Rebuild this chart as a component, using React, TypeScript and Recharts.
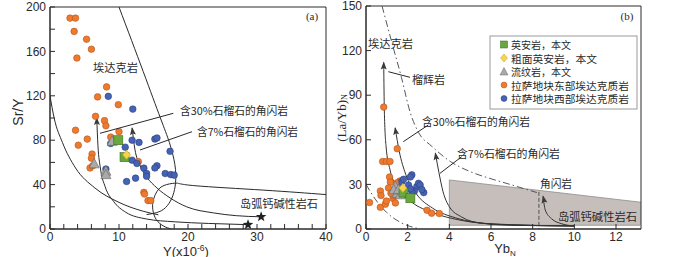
import React from 'react';
import { ComposedChart, Line, Scatter, XAxis, YAxis, ReferenceArea, Area } from 'recharts';

// ---------- Panel (a): Sr/Y vs Y ----------
const aXTicks = [0, 2, 4, 6, 8, 10, 12, 14, 16, 18, 20, 22, 24, 26, 28, 30, 32, 34, 36, 38, 40];
const aYTicks = [0, 20, 40, 60, 80, 100, 120, 140, 160, 180, 200];

const aEast = [
  { x: 2.9, y: 190 }, { x: 3.7, y: 190 }, { x: 3.5, y: 178 }, { x: 5.3, y: 171 }, { x: 6.0, y: 162 },
  { x: 3.9, y: 154 }, { x: 8.2, y: 128 }, { x: 6.9, y: 119 }, { x: 9.9, y: 112 }, { x: 6.6, y: 101.5 },
  { x: 7.9, y: 97.6 }, { x: 8.1, y: 93 }, { x: 3.7, y: 89 }, { x: 10.0, y: 87.7 }, { x: 5.4, y: 81 },
  { x: 8.8, y: 82.8 }, { x: 4.1, y: 75.5 }, { x: 6.1, y: 67.5 }, { x: 6.0, y: 63.8 }, { x: 5.8, y: 55 },
  { x: 6.2, y: 57 }, { x: 12.8, y: 60.7 }, { x: 13.6, y: 33 }, { x: 13.7, y: 31.5 }, { x: 14.2, y: 25.6 },
  { x: 14.6, y: 25.6 },
];
const aWest = [
  { x: 8.45, y: 119.5 }, { x: 12.0, y: 108 }, { x: 11.9, y: 80 }, { x: 12.9, y: 78 }, { x: 15.2, y: 81 },
  { x: 15.5, y: 82 }, { x: 10.9, y: 73.7 }, { x: 8.8, y: 77 }, { x: 17.4, y: 70 }, { x: 11.9, y: 62 },
  { x: 12.6, y: 59 }, { x: 13.6, y: 54.8 }, { x: 15.5, y: 57 }, { x: 15.2, y: 55 }, { x: 16.7, y: 50 },
  { x: 17.5, y: 49 }, { x: 18.0, y: 48.5 }, { x: 14.0, y: 50 }, { x: 14.0, y: 47.5 }, { x: 12.4, y: 45.8 },
  { x: 11.1, y: 42.8 }, { x: 8.1, y: 54 },
];
const aDacite = [{ x: 9.9, y: 80 }, { x: 10.8, y: 64.7 }];
const aTrachy = [{ x: 11.1, y: 66.8 }];
const aRhyolite = [{ x: 9.0, y: 79 }, { x: 6.4, y: 58.7 }, { x: 8.1, y: 52 }, { x: 8.1, y: 49 }];
const aStars = [{ x: 28.7, y: 3.9 }, { x: 30.6, y: 11 }];

const aAdakiteRight = [
  { x: 10, y: 200 }, { x: 13.5, y: 142 }, { x: 16, y: 100 }, { x: 17.3, y: 78 }, { x: 18.1, y: 58 },
  { x: 18.2, y: 42 }, { x: 17.8, y: 30 }, { x: 17.0, y: 21 }, { x: 15.8, y: 15.5 }, { x: 14.0, y: 13 },
];
const aAdakiteLeft = [
  { x: 0, y: 120 }, { x: 0.6, y: 100 }, { x: 1.8, y: 78 }, { x: 3.7, y: 55 }, { x: 6.5, y: 37 },
  { x: 10, y: 24 }, { x: 13.5, y: 16 }, { x: 15.7, y: 12.8 },
];
const aArcField = [
  { x: 40, y: 31 }, { x: 31, y: 35 }, { x: 21, y: 39 }, { x: 18.4, y: 41.3 }, { x: 16.9, y: 40 },
  { x: 15.7, y: 35.5 }, { x: 15.0, y: 26.5 }, { x: 14.9, y: 17.5 }, { x: 15.4, y: 8.5 }, { x: 16.5, y: 2.5 },
  { x: 17.6, y: 0 },
];
const aPath30 = [
  { x: 6.77, y: 100 }, { x: 6.95, y: 75 }, { x: 7.3, y: 55 }, { x: 8.0, y: 38 }, { x: 9.2, y: 25 },
  { x: 11, y: 15 }, { x: 14, y: 9 }, { x: 18, y: 6.5 }, { x: 23, y: 5 }, { x: 28.7, y: 3.9 },
];
const aPath7 = [
  { x: 11.9, y: 91 }, { x: 12.3, y: 72 }, { x: 13.0, y: 58 }, { x: 14.0, y: 47 }, { x: 15.5, y: 37 },
  { x: 17.4, y: 28 }, { x: 19.8, y: 20 }, { x: 23.7, y: 14.5 }, { x: 27, y: 12 }, { x: 30.6, y: 11 },
];

// ---------- Panel (b): (La/Yb)N vs YbN ----------
const bXTicks = [0, 2, 4, 6, 8, 10, 12];
const bYTicks = [0, 30, 60, 90, 120, 150];

const bEast = [
  { x: 0.85, y: 82 }, { x: 0.8, y: 45.4 }, { x: 0.98, y: 45.4 }, { x: 1.15, y: 45.4 }, { x: 1.5, y: 54 },
  { x: 0.69, y: 25.5 }, { x: 0.72, y: 22.5 }, { x: 1.13, y: 35 }, { x: 1.17, y: 31.5 }, { x: 0.17, y: 17.8 },
  { x: 0.69, y: 14.6 }, { x: 0.93, y: 16.7 }, { x: 0.98, y: 18.8 }, { x: 1.3, y: 20.5 }, { x: 1.41, y: 17.5 },
  { x: 1.3, y: 22.5 }, { x: 1.62, y: 32.3 }, { x: 1.49, y: 31 }, { x: 2.93, y: 12.6 }, { x: 3.15, y: 10.6 },
  { x: 3.52, y: 10.4 }, { x: 1.08, y: 27.6 }, { x: 1.2, y: 24 },
];
const bWest = [
  { x: 2.2, y: 36.4 }, { x: 2.13, y: 35 }, { x: 1.72, y: 32 }, { x: 1.8, y: 33.4 }, { x: 2.04, y: 29.6 },
  { x: 2.44, y: 28.5 }, { x: 2.52, y: 30.7 }, { x: 2.6, y: 29.6 }, { x: 2.77, y: 24.5 }, { x: 2.32, y: 25.4 },
  { x: 2.68, y: 26.5 }, { x: 2.2, y: 25.4 }, { x: 2.13, y: 27 }, { x: 1.64, y: 27.6 },
];
const bDacite = [{ x: 1.8, y: 24.5 }, { x: 2.13, y: 20.7 }];
const bTrachy = [{ x: 1.77, y: 27.6 }];
const bRhyolite = [{ x: 1.41, y: 28.5 }, { x: 1.49, y: 24 }, { x: 1.64, y: 23 }, { x: 1.33, y: 26.4 }, { x: 1.56, y: 26.5 }];

const bArcField = [{ x: 4, y: 33 }, { x: 13.2, y: 18 }];
const bArcLeftEdge = [{ x: 4, y: 2.5 }, { x: 4, y: 33 }];
const bArcBottom = [{ x: 4, y: 2.5 }, { x: 13.2, y: 2.5 }];
const bUpperDash = [
  { x: 0.77, y: 150 }, { x: 1.25, y: 125 }, { x: 1.7, y: 102 }, { x: 2.13, y: 78 }, { x: 2.52, y: 65 },
  { x: 3.17, y: 55.5 }, { x: 4.05, y: 45.4 }, { x: 5.0, y: 38.6 }, { x: 6.0, y: 33.8 }, { x: 6.77, y: 30.6 },
  { x: 8.2, y: 24.5 },
];
const bVertDash = [{ x: 8.3, y: 25 }, { x: 8.3, y: 0 }];
const bLowerDash = [{ x: 0, y: 30 }, { x: 0.45, y: 20 }, { x: 1.0, y: 11 }, { x: 1.65, y: 4.5 }, { x: 2.6, y: 0 }];
const bEclogite = [
  { x: 0.85, y: 112 }, { x: 0.88, y: 80 }, { x: 0.96, y: 56 }, { x: 1.15, y: 40 }, { x: 1.5, y: 28 },
  { x: 2.2, y: 18 }, { x: 3.2, y: 11 }, { x: 4.5, y: 6 }, { x: 6.5, y: 3 }, { x: 10, y: 2 },
];
const bGarnet30 = [
  { x: 1.4, y: 68 }, { x: 1.6, y: 52 }, { x: 1.9, y: 37 }, { x: 2.4, y: 24 }, { x: 3.2, y: 14 },
  { x: 4.3, y: 7.5 }, { x: 6, y: 3.5 }, { x: 10, y: 2 },
];
const bGarnet7 = [
  { x: 3.33, y: 51 }, { x: 3.5, y: 38 }, { x: 3.7, y: 25 }, { x: 4.0, y: 15 }, { x: 4.6, y: 8 },
  { x: 5.5, y: 4 }, { x: 7, y: 2.5 }, { x: 10, y: 2 },
];
const bAmph = [{ x: 8.5, y: 22 }, { x: 8.6, y: 13 }, { x: 8.9, y: 7 }, { x: 9.4, y: 3.5 }, { x: 10, y: 2 }];

// ---------- styles ----------
const ink = '#2a2a2a';
const cOrange = '#ee7a2e';
const cBlue = '#4562b4';
const cGreen = '#69a83c';
const cYellow = '#f6d54c';
const cGray = '#a9a9a9';
const cjk = '"Noto Sans CJK SC", sans-serif';
const sans = '"Liberation Sans", Arial, sans-serif';
const serif = '"Liberation Serif", "Times New Roman", serif';

const Circle = (fill: string, stroke: string) => (p: any) =>
  <circle cx={p.cx} cy={p.cy} r={3.3} fill={fill} stroke={stroke} strokeWidth={0.6} />;
const Square = (p: any) =>
  <rect x={p.cx - 4.5} y={p.cy - 4.5} width={9} height={9} fill={cGreen} stroke="#3d6e22" strokeWidth={0.6} />;
const Diamond = (p: any) =>
  <polygon points={`${p.cx},${p.cy - 4.5} ${p.cx + 4},${p.cy} ${p.cx},${p.cy + 4.5} ${p.cx - 4},${p.cy}`} fill={cYellow} stroke="#c9a327" strokeWidth={0.6} />;
const Triangle = (p: any) =>
  <polygon points={`${p.cx},${p.cy - 5.5} ${p.cx + 5},${p.cy + 4} ${p.cx - 5},${p.cy + 4}`} fill={cGray} stroke="#6f6f6f" strokeWidth={0.7} />;
const Star = (p: any) => {
  const pts: string[] = [];
  for (let i = 0; i < 10; i++) {
    const r = i % 2 === 0 ? 5.5 : 2.3;
    const a = -Math.PI / 2 + (i * Math.PI) / 5;
    pts.push(`${p.cx + r * Math.cos(a)},${p.cy + r * Math.sin(a)}`);
  }
  return <polygon points={pts.join(' ')} fill="#222" />;
};

const arrowDot = (angle: number) => (p: any) => {
  if (p.index !== 0 || p.cx == null) return <g key={p.key} />;
  return (
    <polygon key={p.key} points="0,-1 -3,7 0,5.5 3,7" fill="#3a3a3a"
      transform={`translate(${p.cx},${p.cy}) rotate(${angle})`} />
  );
};

const tickStyle = { fill: ink, fontSize: 12, fontFamily: sans };

function PanelA() {
  return (
    <ComposedChart width={350} height={257} margin={{ top: 7, right: 24, bottom: 0, left: 0 }}>
      <XAxis type="number" dataKey="x" domain={[0, 40]} ticks={aXTicks} interval={0} allowDataOverflow
        tickFormatter={(v: number) => (v % 10 === 0 ? String(v) : '')} tickSize={-5} tickMargin={8}
        height={28} stroke={ink} tick={tickStyle} />
      <YAxis type="number" dataKey="y" domain={[0, 200]} ticks={aYTicks} interval={0} allowDataOverflow
        tickFormatter={(v: number) => (v % 40 === 0 ? String(v) : '')} tickSize={-5} tickMargin={9}
        width={50} stroke={ink} tick={tickStyle} />
      <ReferenceArea x1={0} x2={40} y1={0} y2={200} fill="none" stroke={ink} strokeWidth={1} />
      <Line data={aAdakiteRight} dataKey="y" type="natural" stroke={ink} strokeWidth={1} dot={false} isAnimationActive={false} />
      <Line data={aAdakiteLeft} dataKey="y" type="monotone" stroke={ink} strokeWidth={1} dot={false} isAnimationActive={false} />
      <Line data={aArcField} dataKey="y" type="natural" stroke={ink} strokeWidth={1} dot={false} isAnimationActive={false} />
      <Line data={aPath30} dataKey="y" type="monotone" stroke={ink} strokeWidth={1} dot={arrowDot(-2)} isAnimationActive={false} />
      <Line data={aPath7} dataKey="y" type="monotone" stroke={ink} strokeWidth={1} dot={arrowDot(-7)} isAnimationActive={false} />
      <Scatter data={aEast} shape={Circle(cOrange, '#b5551c')} isAnimationActive={false} />
      <Scatter data={aWest} shape={Circle(cBlue, '#2c3f80')} isAnimationActive={false} />
      <Scatter data={aRhyolite} shape={Triangle} isAnimationActive={false} />
      <Scatter data={aDacite} shape={Square} isAnimationActive={false} />
      <Scatter data={aTrachy} shape={Diamond} isAnimationActive={false} />
      <Scatter data={aStars} shape={Star} isAnimationActive={false} />
    </ComposedChart>
  );
}

function PanelB() {
  return (
    <ComposedChart width={400} height={257} margin={{ top: 6, right: 59, bottom: 0, left: 0 }} data={bArcField}>
      <XAxis type="number" dataKey="x" domain={[0, 13.2]} ticks={bXTicks} interval={0} allowDataOverflow
        tickSize={-5} tickMargin={8} height={28} stroke={ink} tick={tickStyle} />
      <YAxis type="number" dataKey="y" domain={[0, 150]} ticks={bYTicks} interval={0} allowDataOverflow
        tickSize={-5} tickMargin={9} width={66} stroke={ink} tick={tickStyle} />
      <Area dataKey="y" type="linear" baseValue={2.5} fill="#c6bebb" fillOpacity={1} stroke="#8d8d8d" strokeWidth={0.8} isAnimationActive={false} />
      <Line data={bArcLeftEdge} dataKey="y" type="linear" stroke="#8d8d8d" strokeWidth={0.8} dot={false} isAnimationActive={false} />
      <Line data={bArcBottom} dataKey="y" type="linear" stroke="#8d8d8d" strokeWidth={0.8} dot={false} isAnimationActive={false} />
      <ReferenceArea x1={0} x2={13.2} y1={0} y2={150} fill="none" stroke={ink} strokeWidth={1} />
      <Line data={bUpperDash} dataKey="y" type="monotone" stroke="#444" strokeWidth={0.9} strokeDasharray="7 3 1.5 3" dot={false} isAnimationActive={false} />
      <Line data={bVertDash} dataKey="y" type="linear" stroke="#444" strokeWidth={0.9} strokeDasharray="4 2" dot={false} isAnimationActive={false} />
      <Line data={bLowerDash} dataKey="y" type="monotone" stroke="#444" strokeWidth={0.9} strokeDasharray="7 3 1.5 3" dot={false} isAnimationActive={false} />
      <Line data={bEclogite} dataKey="y" type="monotone" stroke="#333" strokeWidth={1} dot={arrowDot(0)} isAnimationActive={false} />
      <Line data={bGarnet30} dataKey="y" type="monotone" stroke="#333" strokeWidth={1} dot={arrowDot(-9)} isAnimationActive={false} />
      <Line data={bGarnet7} dataKey="y" type="monotone" stroke="#333" strokeWidth={1} dot={arrowDot(-10)} isAnimationActive={false} />
      <Line data={bAmph} dataKey="y" type="monotone" stroke="#333" strokeWidth={1} dot={arrowDot(-12)} isAnimationActive={false} />
      <Scatter data={bEast} shape={Circle(cOrange, '#b5551c')} isAnimationActive={false} />
      <Scatter data={bWest} shape={Circle(cBlue, '#2c3f80')} isAnimationActive={false} />
      <Scatter data={bRhyolite} shape={Triangle} isAnimationActive={false} />
      <Scatter data={bDacite} shape={Square} isAnimationActive={false} />
      <Scatter data={bTrachy} shape={Diamond} isAnimationActive={false} />
    </ComposedChart>
  );
}

const T = ({ x, y, w, children, size = 11 }: any) => (
  <text x={x} y={y} dominantBaseline="central" fontFamily={cjk} fontSize={size} fill={ink}
    textLength={w} lengthAdjust="spacingAndGlyphs">{children}</text>
);

const legendItems = [
  { label: '英安岩，本文', w: 60 },
  { label: '粗面英安岩，本文', w: 86 },
  { label: '流纹岩，本文', w: 60 },
  { label: '拉萨地块东部埃达克质岩', w: 118 },
  { label: '拉萨地块西部埃达克质岩', w: 118 },
];
const legendY = [44.5, 58, 71.5, 85, 98.5];

function Overlay() {
  const lx = 504;
  return (
    <svg width={700} height={257} style={{ position: 'absolute', left: 0, top: 0, pointerEvents: 'none' }}>
      {/* axis titles */}
      <text x={18} y={112} transform="rotate(-90 18 112)" textAnchor="middle" dominantBaseline="central"
        fontFamily={sans} fontSize={14} fill={ink}>Sr/Y</text>
      <text x={186} y={255.5} textAnchor="middle" fontFamily={sans} fontSize={13} fill={ink}>
        Y(x10<tspan fontSize={8.5} dy={-5}>-6</tspan><tspan dy={5}>)</tspan>
      </text>
      <text x={341} y={118} transform="rotate(-90 341 118)" textAnchor="middle" dominantBaseline="central"
        fontFamily={serif} fontSize={13} fill={ink}>(La/Yb)<tspan fontSize={8} dy={3}>N</tspan></text>
      <text x={505} y={253} textAnchor="middle" fontFamily={sans} fontSize={13} fill={ink}>
        Yb<tspan fontSize={8} dy={3}>N</tspan>
      </text>
      <text x={312} y={16} textAnchor="middle" dominantBaseline="central" fontFamily={serif} fontSize={11} fill={ink}>(a)</text>
      <text x={627} y={16} textAnchor="middle" dominantBaseline="central" fontFamily={serif} fontSize={11} fill={ink}>(b)</text>

      {/* panel (a) annotations */}
      <T x={93} y={67} w={45}>埃达克岩</T>
      <line x1={100} y1={133.3} x2={173.3} y2={113.3} stroke={ink} strokeWidth={1} />
      <T x={180} y={110} w={108}>含30%石榴石的角闪岩</T>
      <line x1={140} y1={150} x2={192} y2={131.7} stroke={ink} strokeWidth={1} />
      <T x={197} y={131} w={101}>含7%石榴石的角闪岩</T>
      <T x={240} y={203} w={78}>岛弧钙碱性岩石</T>

      {/* panel (b) annotations */}
      <T x={368} y={43} w={45}>埃达克岩</T>
      <line x1={388.3} y1={71.7} x2={410} y2={77.3} stroke={ink} strokeWidth={1} />
      <T x={412} y={79} w={33}>榴辉岩</T>
      <line x1={403.3} y1={141.7} x2={428.3} y2={125} stroke={ink} strokeWidth={1} />
      <T x={422} y={121} w={108}>含30%石榴石的角闪岩</T>
      <line x1={440} y1={173.3} x2={461.7} y2={156.7} stroke={ink} strokeWidth={1} />
      <T x={457} y={153} w={103}>含7%石榴石的角闪岩</T>
      <T x={540} y={183} w={32}>角闪岩</T>
      <T x={558} y={216} w={79}>岛弧钙碱性岩石</T>

      {/* legend */}
      <rect x={490} y={36} width={147} height={73} fill="#fff" stroke="#9a9a9a" strokeWidth={1} />
      <rect x={lx - 3.5} y={legendY[0] - 3.5} width={7} height={7} fill={cGreen} stroke="#3d6e22" strokeWidth={0.5} />
      <polygon points={`${lx},${legendY[1] - 4} ${lx + 3.5},${legendY[1]} ${lx},${legendY[1] + 4} ${lx - 3.5},${legendY[1]}`} fill={cYellow} stroke="#c9a327" strokeWidth={0.5} />
      <polygon points={`${lx},${legendY[2] - 4} ${lx + 4},${legendY[2] + 3.5} ${lx - 4},${legendY[2] + 3.5}`} fill={cGray} stroke="#6f6f6f" strokeWidth={0.5} />
      <circle cx={lx} cy={legendY[3]} r={3} fill={cOrange} stroke="#b5551c" strokeWidth={0.5} />
      <circle cx={lx} cy={legendY[4]} r={3} fill={cBlue} stroke="#2c3f80" strokeWidth={0.5} />
      {legendItems.map((it, i) => (
        <T key={it.label} x={511} y={legendY[i]} w={it.w} size={10.5}>{it.label}</T>
      ))}
    </svg>
  );
}

export default function App() {
  return (
    <div style={{ position: 'absolute', left: 0, top: 0, width: 700, height: 257, background: '#fff', overflow: 'hidden' }}>
      <div style={{ position: 'absolute', left: 0, top: 0 }}>
        <PanelA />
      </div>
      <div style={{ position: 'absolute', left: 300, top: 0 }}>
        <PanelB />
      </div>
      <Overlay />
    </div>
  );
}
